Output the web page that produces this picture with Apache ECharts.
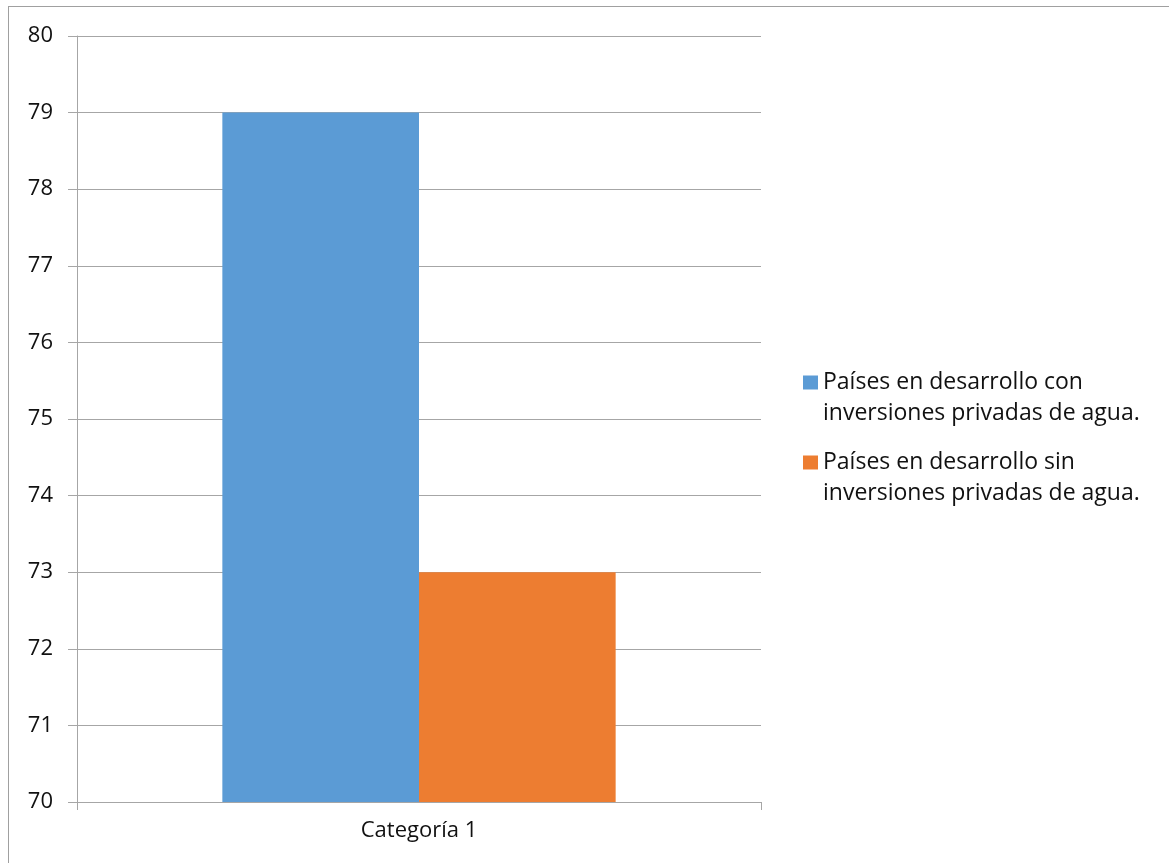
<!DOCTYPE html>
<html>
<head>
<meta charset="utf-8">
<script src="https://cdn.jsdelivr.net/npm/echarts@6/dist/echarts.min.js"></script>
<style>
  html, body { margin: 0; padding: 0; background: #fff; }
  #chart { position: absolute; left: 0; top: 0; width: 1169px; height: 863px; }
  #frame { position: absolute; left: 8px; top: 6px; width: 1200px; height: 900px;
           border: 1px solid #a0a0a0; box-sizing: border-box; pointer-events: none; }
</style>
</head>
<body>
<div id="chart"></div>
<div id="frame"></div>
<script>
// Categories and values
const categories = ['Categoría 1'];
const seriesNames = [
  'Países en desarrollo con\ninversiones privadas de agua.',
  'Países en desarrollo sin\ninversiones privadas de agua.'
];
const conInversiones = [79];
const sinInversiones = [73];
const colors = ['#5B9BD5', '#ED7D31'];

const FONT = 'Open Sans';
const FONT_SIZE = 22;
const gridColor = '#A6A6A6';

// One legend per series so each block can be placed on its own;
// a leading blank line keeps the swatch level with the first text line.
const legendItem = (name, top) => ({
  data: [name],
  orient: 'vertical',
  left: 798,
  top: top,
  icon: 'rect',
  itemWidth: 15,
  itemHeight: 14,
  itemGap: 0,
  formatter: n => ' \n' + n,
  textStyle: {
    fontFamily: FONT,
    fontSize: 23,
    color: '#111',
    lineHeight: 31
  }
});

const chart = echarts.init(document.getElementById('chart'), null, { renderer: 'canvas' });
chart.setOption({
  animation: false,
  backgroundColor: '#fff',
  textStyle: { fontFamily: FONT },
  grid: { left: 77, right: 408, top: 36, bottom: 61, containLabel: false },
  legend: [legendItem(seriesNames[0], 331), legendItem(seriesNames[1], 411)],
  xAxis: {
    type: 'category',
    data: categories,
    axisLine: { lineStyle: { color: gridColor, width: 1 } },
    axisTick: { show: true, length: 8, lineStyle: { color: gridColor } },
    axisLabel: { color: '#111', fontFamily: FONT, fontSize: FONT_SIZE, margin: 18 }
  },
  yAxis: {
    type: 'value',
    min: 70,
    max: 80,
    interval: 1,
    axisLine: { show: true, lineStyle: { color: gridColor, width: 1 } },
    axisTick: { show: true, length: 9, lineStyle: { color: gridColor } },
    splitLine: { show: true, lineStyle: { color: gridColor, width: 1 } },
    axisLabel: { color: '#111', fontFamily: FONT, fontSize: FONT_SIZE, margin: 24 }
  },
  series: [
    {
      name: seriesNames[0],
      type: 'bar',
      data: conInversiones,
      itemStyle: { color: colors[0] },
      barGap: '0%',
      barCategoryGap: '42.5%'
    },
    {
      name: seriesNames[1],
      type: 'bar',
      data: sinInversiones,
      itemStyle: { color: colors[1] }
    }
  ]
});
</script>
</body>
</html>
